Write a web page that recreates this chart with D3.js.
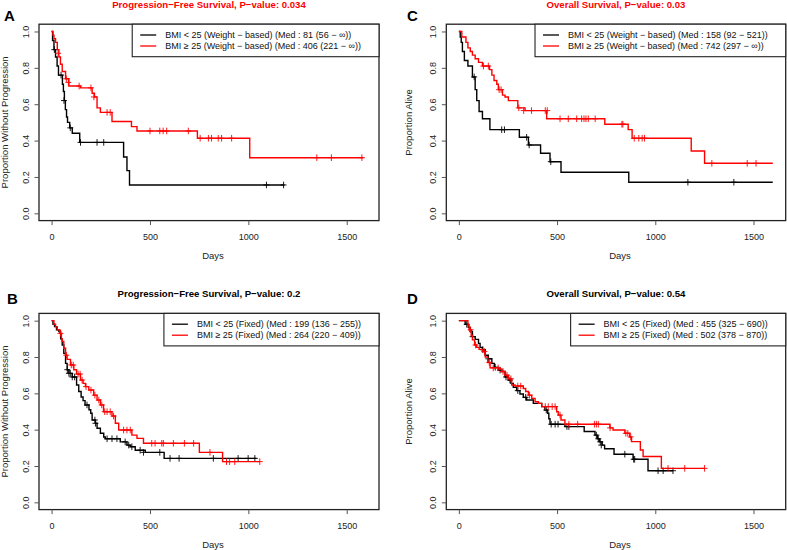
<!DOCTYPE html>
<html><head><meta charset="utf-8">
<script src="https://cdn.jsdelivr.net/npm/d3@7"></script>
<style>
body{margin:0;background:#fff}
svg{display:block}
text{font-family:"Liberation Sans",Arial,Helvetica,sans-serif}
</style>
</head><body>
<svg id="chart" width="787" height="550"></svg>
<script>
// ---------------- DATA ----------------
const xTicks = [0, 500, 1000, 1500];
const yTicks = [0, 0.2, 0.4, 0.6, 0.8, 1.0];
const yTickLabels = ["0.0", "0.2", "0.4", "0.6", "0.8", "1.0"];
const panelLetters = ["A", "B", "C", "D"];
const panelTitles = [
  "Progression\u2212Free Survival, P\u2212value: 0.034",
  "Progression\u2212Free Survival, P\u2212value: 0.2",
  "Overall Survival, P\u2212value: 0.03",
  "Overall Survival, P\u2212value: 0.54"
];
const yLabels = ["Proportion Without Progression", "Proportion Without Progression", "Proportion Alive", "Proportion Alive"];
const xLabel = "Days";
const legendLabels = [
  ["BMI < 25 (Weight \u2212 based) (Med : 81 (56 \u2212 \u221E))", "BMI \u2265 25 (Weight \u2212 based) (Med : 406 (221 \u2212 \u221E))"],
  ["BMI < 25 (Fixed) (Med : 199 (136 \u2212 255))", "BMI \u2265 25 (Fixed) (Med : 264 (220 \u2212 409))"],
  ["BMI < 25 (Weight \u2212 based) (Med : 158 (92 \u2212 521))", "BMI \u2265 25 (Weight \u2212 based) (Med : 742 (297 \u2212 \u221E))"],
  ["BMI < 25 (Fixed) (Med : 455 (325 \u2212 690))", "BMI \u2265 25 (Fixed) (Med : 502 (378 \u2212 870))"]
];

// Panel A: PFS weight-based
const aLowSteps = [[0,1],[5,0.95],[12,0.90],[20,0.86],[28,0.81],[35,0.76],[55,0.71],[60,0.67],[65,0.62],[70,0.57],[76,0.53],[81,0.50],[92,0.47],[105,0.44],[143,0.39],[366,0.31],[383,0.235],[396,0.156]];
const aLowEnd = 1184;
const aLowCens = [[14,0.90],[48,0.76],[63,0.62],[95,0.47],[147,0.39],[231,0.39],[265,0.39],[1092,0.156],[1179,0.156]];
const aHighSteps = [[0,1],[7,0.98],[12,0.96],[20,0.94],[29,0.90],[37,0.86],[45,0.82],[54,0.78],[71,0.74],[88,0.70],[147,0.69],[206,0.66],[218,0.64],[231,0.58],[248,0.555],[307,0.505],[406,0.477],[434,0.453],[741,0.413],[1007,0.306]];
const aHighEnd = 1584;
const aHighCens = [[33,0.88],[75,0.74],[85,0.72],[140,0.70],[200,0.69],[215,0.64],[282,0.555],[298,0.555],[500,0.453],[550,0.453],[567,0.453],[585,0.453],[695,0.453],[755,0.413],[797,0.413],[813,0.413],[847,0.413],[864,0.413],[915,0.413],[1348,0.306],[1422,0.306],[1577,0.306]];

// Panel B: PFS fixed
const bLowSteps = [[0,1],[7,0.98],[15,0.967],[25,0.95],[37,0.94],[46,0.90],[54,0.866],[62,0.82],[71,0.765],[79,0.73],[88,0.71],[105,0.69],[127,0.646],[138,0.61],[150,0.58],[160,0.56],[170,0.536],[190,0.51],[199,0.49],[206,0.453],[223,0.435],[231,0.408],[248,0.38],[265,0.36],[273,0.35],[349,0.333],[383,0.315],[400,0.306],[425,0.287],[476,0.275],[572,0.242]];
const bLowEnd = 1041;
const bLowCens = [[80,0.73],[88,0.71],[95,0.71],[105,0.69],[117,0.69],[180,0.536],[220,0.453],[223,0.435],[282,0.35],[307,0.35],[332,0.35],[374,0.333],[392,0.315],[408,0.306],[450,0.287],[467,0.275],[550,0.275],[602,0.242],[648,0.242],[822,0.242],[948,0.242],[999,0.242],[1033,0.242]];
const bHighSteps = [[0,1],[12,0.98],[20,0.967],[29,0.95],[42,0.93],[50,0.90],[54,0.885],[62,0.848],[71,0.81],[79,0.787],[96,0.756],[113,0.73],[127,0.706],[147,0.673],[160,0.655],[172,0.637],[189,0.618],[214,0.59],[231,0.563],[248,0.536],[264,0.499],[307,0.475],[324,0.435],[341,0.398],[408,0.37],[434,0.352],[467,0.325],[751,0.275],[869,0.224]];
const bHighEnd = 1058;
const bHighCens = [[45,0.93],[75,0.81],[100,0.756],[110,0.756],[135,0.706],[145,0.706],[155,0.673],[175,0.637],[200,0.618],[220,0.59],[240,0.563],[255,0.536],[270,0.499],[282,0.499],[298,0.499],[315,0.475],[366,0.398],[383,0.398],[400,0.398],[509,0.325],[526,0.325],[560,0.325],[568,0.325],[619,0.325],[675,0.325],[722,0.325],[805,0.275],[889,0.224],[905,0.224],[931,0.224],[1058,0.224]];

// Panel C: OS weight-based
const cLowSteps = [[0,1],[7,0.97],[12,0.94],[18,0.89],[28,0.84],[46,0.81],[69,0.75],[83,0.68],[91,0.62],[103,0.56],[120,0.52],[158,0.46],[308,0.418],[354,0.376],[416,0.33],[464,0.284],[520,0.226],[865,0.171]];
const cLowEnd = 1598;
const cLowCens = [[78,0.75],[218,0.46],[232,0.46],[345,0.418],[358,0.376],[468,0.284],[1166,0.171],[1400,0.171]];
const cHighSteps = [[0,1],[15,0.97],[36,0.94],[46,0.91],[58,0.89],[69,0.87],[83,0.85],[100,0.83],[120,0.81],[156,0.79],[168,0.76],[179,0.73],[193,0.71],[201,0.68],[222,0.65],[235,0.64],[252,0.62],[300,0.58],[337,0.565],[447,0.52],[743,0.49],[862,0.46],[882,0.413],[1183,0.343],[1251,0.275]];
const cHighEnd = 1598;
const cHighCens = [[125,0.81],[150,0.81],[205,0.68],[215,0.68],[305,0.58],[330,0.565],[370,0.565],[440,0.565],[450,0.565],[515,0.52],[557,0.52],[600,0.52],[625,0.52],[637,0.52],[647,0.52],[659,0.52],[694,0.52],[830,0.49],[835,0.49],[893,0.413],[916,0.413],[933,0.413],[945,0.413],[1288,0.275],[1468,0.275],[1513,0.275]];

// Panel D: OS fixed
const dLowSteps = [[0,1],[32,0.98],[48,0.963],[57,0.94],[69,0.912],[83,0.897],[100,0.875],[108,0.853],[120,0.84],[134,0.81],[150,0.79],[168,0.765],[181,0.743],[201,0.728],[218,0.72],[235,0.69],[252,0.673],[265,0.655],[277,0.633],[294,0.615],[311,0.596],[328,0.578],[345,0.563],[379,0.545],[422,0.527],[438,0.508],[452,0.49],[458,0.46],[464,0.43],[540,0.417],[638,0.39],[693,0.37],[705,0.35],[715,0.333],[730,0.315],[742,0.295],[790,0.265],[887,0.237],[963,0.174]];
const dLowEnd = 1090;
const dLowCens = [[40,0.98],[70,0.912],[122,0.84],[150,0.79],[185,0.743],[210,0.728],[240,0.69],[260,0.673],[300,0.615],[340,0.578],[445,0.508],[470,0.43],[490,0.43],[505,0.43],[550,0.417],[560,0.417],[700,0.37],[710,0.35],[720,0.333],[725,0.315],[845,0.265],[890,0.237],[895,0.237],[1014,0.174],[1040,0.174],[1090,0.174]];
const dHighSteps = [[0,1],[46,0.976],[52,0.95],[63,0.92],[69,0.894],[80,0.866],[91,0.853],[103,0.842],[120,0.83],[134,0.80],[147,0.77],[159,0.74],[205,0.734],[218,0.72],[235,0.70],[252,0.68],[269,0.646],[286,0.64],[328,0.627],[340,0.61],[354,0.59],[371,0.572],[388,0.554],[405,0.545],[422,0.527],[498,0.499],[506,0.48],[520,0.453],[540,0.43],[769,0.41],[785,0.398],[845,0.38],[870,0.36],[879,0.334],[924,0.288],[938,0.252],[1031,0.187]];
const dHighEnd = 1251;
const dHighCens = [[60,0.95],[85,0.866],[130,0.83],[155,0.77],[175,0.74],[200,0.74],[225,0.72],[245,0.70],[265,0.68],[300,0.64],[315,0.64],[360,0.59],[440,0.527],[455,0.527],[475,0.527],[490,0.527],[515,0.48],[560,0.43],[605,0.43],[690,0.43],[700,0.43],[710,0.43],[770,0.41],[850,0.38],[860,0.38],[875,0.36],[1065,0.187],[1150,0.187],[1251,0.187]];

const seriesColors = ["#000000", "#ff0000"];
const titleColors = ["#ff0000", "#000000", "#ff0000", "#000000"];

// ---------------- LAYOUT ----------------
const panels = [
  {letter:0, left:39, right:379, top:24.2, bottom:220.6, lx:4, ly:20.5, ylabX:8,
   series:[[aLowSteps,aLowEnd,aLowCens],[aHighSteps,aHighEnd,aHighCens]]},
  {letter:1, left:39, right:379, top:313.4, bottom:509.6, lx:7, ly:303.5, ylabX:8,
   series:[[bLowSteps,bLowEnd,bLowCens],[bHighSteps,bHighEnd,bHighCens]]},
  {letter:2, left:446.3, right:785.7, top:24.2, bottom:220.6, lx:407, ly:20.5, ylabX:412,
   series:[[cLowSteps,cLowEnd,cLowCens],[cHighSteps,cHighEnd,cHighCens]]},
  {letter:3, left:446.3, right:785.7, top:313.4, bottom:509.6, lx:407, ly:303.5, ylabX:412,
   series:[[dLowSteps,dLowEnd,dLowCens],[dHighSteps,dHighEnd,dHighCens]]}
];

const svg = d3.select("#chart");

panels.forEach(p => {
  const i = p.letter;
  const x = d3.scaleLinear().domain([-64, 1664]).range([p.left, p.right]);
  const y = d3.scaleLinear().domain([-0.04, 1.04]).range([p.bottom, p.top]);
  const g = svg.append("g");

  // curves
  const line = d3.line().x(d => x(d[0])).y(d => y(d[1])).curve(d3.curveStepAfter);
  p.series.forEach((s, k) => {
    const [steps, end, cens] = s;
    const pts = steps.concat([[end, steps[steps.length - 1][1]]]);
    g.append("path").attr("d", line(pts)).attr("fill", "none")
      .attr("stroke", seriesColors[k]).attr("stroke-width", 1.4);
    const cg = g.append("g").attr("stroke", seriesColors[k]).attr("stroke-width", 0.9);
    cens.forEach(c => {
      const cx = x(c[0]), cy = y(c[1]);
      cg.append("line").attr("x1", cx - 3).attr("x2", cx + 3).attr("y1", cy).attr("y2", cy);
      cg.append("line").attr("x1", cx).attr("x2", cx).attr("y1", cy - 3.3).attr("y2", cy + 3.3);
    });
  });

  // box
  g.append("rect").attr("x", p.left).attr("y", p.top)
    .attr("width", p.right - p.left).attr("height", p.bottom - p.top)
    .attr("fill", "none").attr("stroke", "#222").attr("stroke-width", 1.3);

  // x axis
  const xa = g.append("g").attr("transform", `translate(0,${p.bottom})`)
    .call(d3.axisBottom(x).tickValues(xTicks).tickSize(4.5).tickFormat(d3.format("d")));
  xa.select(".domain").remove();
  xa.selectAll("line").attr("stroke", "#555");
  xa.selectAll("text").attr("font-size", 9).attr("fill", "#222")
    .attr("dy", null).attr("y", 19);

  // y axis (ticks from the library, labels rotated like R)
  const ya = g.append("g").attr("transform", `translate(${p.left},0)`)
    .call(d3.axisLeft(y).tickValues(yTicks).tickSize(4.5).tickFormat(""));
  ya.select(".domain").remove();
  ya.selectAll("line").attr("stroke", "#555");
  ya.selectAll(".tick text").remove();
  ya.selectAll(".tick").append("text")
    .attr("transform", "translate(-10,0) rotate(-90)")
    .attr("text-anchor", "middle").attr("font-size", 9).attr("fill", "#222")
    .text(d => yTickLabels[yTicks.indexOf(d)]);

  // axis titles
  g.append("text").attr("x", (p.left + p.right) / 2 + 4).attr("y", p.bottom + 38)
    .attr("text-anchor", "middle").attr("font-size", 9.5).attr("fill", "#222").text(xLabel);
  g.append("text").attr("transform", `translate(${p.ylabX},${(p.top + p.bottom) / 2}) rotate(-90)`)
    .attr("text-anchor", "middle").attr("font-size", 9.5).attr("fill", "#222").text(yLabels[i]);

  // title
  g.append("text").attr("x", (p.left + p.right) / 2).attr("y", p.top - 16.2)
    .attr("text-anchor", "middle").attr("font-size", 9.6).attr("font-weight", "bold")
    .attr("fill", titleColors[i]).text(panelTitles[i]);

  // panel letter
  g.append("text").attr("x", p.lx).attr("y", p.ly).attr("font-size", 15)
    .attr("font-weight", "bold").attr("fill", "#000").text(panelLetters[i]);

  // legend
  const lg = g.append("g");
  const texts = legendLabels[i].map((t, k) => lg.append("text")
    .attr("y", p.top + 10.8 + k * 11 + 3.2).attr("font-size", 9).attr("fill", "#111").text(t));
  const maxW = d3.max(texts, t => t.node().getComputedTextLength());
  const boxLeft = p.right - 18 - maxW - 33;
  texts.forEach(t => t.attr("x", boxLeft + 33));
  lg.insert("rect", "text").attr("x", boxLeft).attr("y", p.top)
    .attr("width", p.right - boxLeft).attr("height", 32.5)
    .attr("fill", "#fff").attr("stroke", "#222").attr("stroke-width", 1.1);
  [0, 1].forEach(k => lg.append("line").attr("x1", boxLeft + 8).attr("x2", boxLeft + 24)
    .attr("y1", p.top + 10.8 + k * 11).attr("y2", p.top + 10.8 + k * 11)
    .attr("stroke", seriesColors[k]).attr("stroke-width", 1.3));
});
</script>
</body></html>
